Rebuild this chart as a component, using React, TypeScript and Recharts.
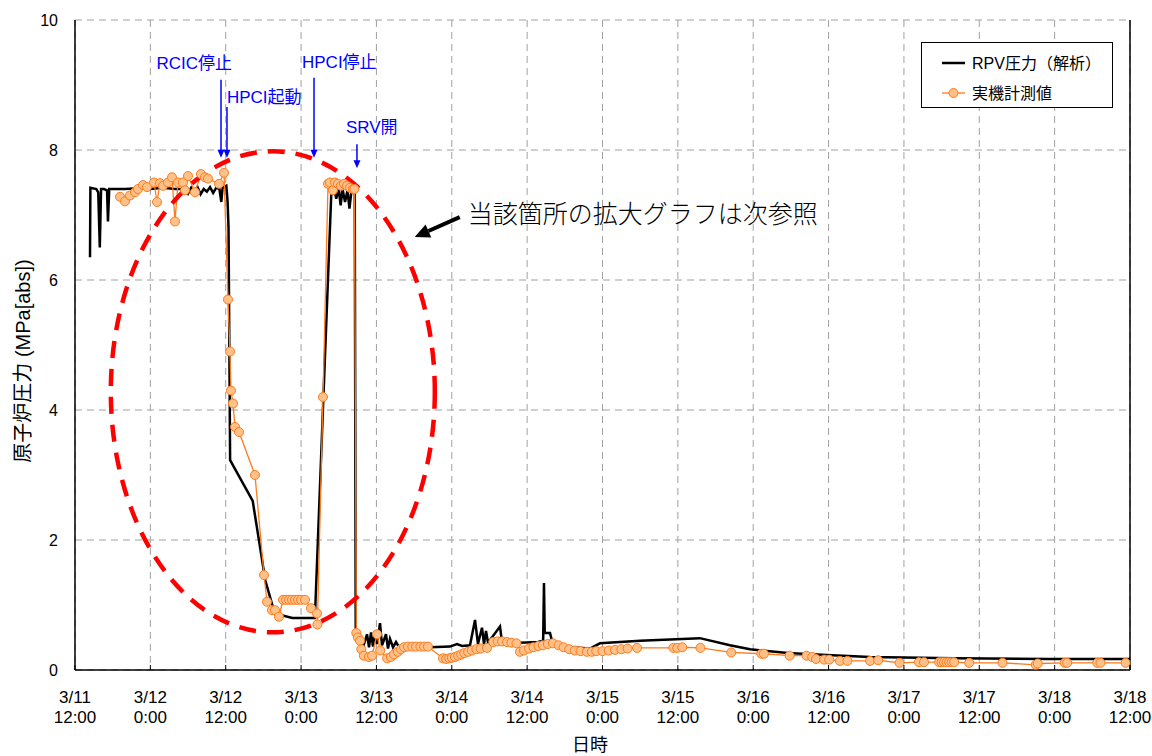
import React from 'react';
import { LineChart, Line, XAxis, YAxis, CartesianGrid, ReferenceDot, ReferenceLine } from 'recharts';

// x = hours since 3/11 12:00
const xTickHours = [0, 12, 24, 36, 48, 60, 72, 84, 96, 108, 120, 132, 144, 156, 168];
const xTickDates = ['3/11', '3/12', '3/12', '3/13', '3/13', '3/14', '3/14', '3/15', '3/15', '3/16', '3/16', '3/17', '3/17', '3/18', '3/18'];
const xTickTimes = ['12:00', '0:00', '12:00', '0:00', '12:00', '0:00', '12:00', '0:00', '12:00', '0:00', '12:00', '0:00', '12:00', '0:00', '12:00'];
const yTicks = [0, 2, 4, 6, 8, 10];

// RPV圧力（解析） [hour, MPa]
const rpvAnalysis: [number, number][] = [
  [2.39, 6.35], [2.45, 7.42], [3.4, 7.4], [3.7, 7.35], [3.95, 6.5], [4.15, 7.4], [4.6, 7.4], [5.1, 7.38],
  [5.25, 6.9], [5.45, 7.4], [8, 7.4], [10, 7.41], [12, 7.4], [14, 7.42], [16, 7.4], [17.5, 7.4],
  [18, 7.33], [18.5, 7.42], [19, 7.35], [19.5, 7.43], [20, 7.32], [20.5, 7.4], [21, 7.36], [21.5, 7.43],
  [22, 7.34], [22.5, 7.42], [23, 7.4], [23.3, 7.2], [23.5, 7.42], [24.1, 7.45], [24.3, 7.2], [24.45, 6.8],
  [24.7, 3.23], [28.3, 2.6], [30.3, 1.38], [31.8, 0.87], [34.6, 0.8], [38.2, 0.8], [40.8, 7.3], [41.2, 7.45],
  [41.6, 7.25], [42.0, 7.4], [42.3, 7.15], [42.6, 7.4], [43.0, 7.2], [43.4, 7.38], [43.7, 7.1], [44.0, 7.35],
  [44.3, 7.4], [44.55, 7.35], [44.7, 0.6], [45.06, 0.58], [45.7, 0.3], [46.5, 0.55], [46.82, 0.35], [47.14, 0.58],
  [47.45, 0.36], [47.77, 0.6], [48.09, 0.4], [48.57, 0.72], [48.89, 0.38], [49.52, 0.55], [49.84, 0.33], [50.16, 0.48],
  [50.64, 0.35], [51.12, 0.43], [51.75, 0.33], [53.35, 0.35], [56.53, 0.35], [59.72, 0.36], [60.83, 0.4], [61.63, 0.37],
  [62.9, 0.38], [63.7, 0.77], [64.17, 0.4], [64.81, 0.65], [65.13, 0.4], [65.45, 0.6], [65.77, 0.42], [67.68, 0.67],
  [68.0, 0.42], [70.86, 0.42], [73.73, 0.43], [74.55, 0.45], [74.68, 1.34], [74.8, 0.57], [75.64, 0.57], [75.96, 0.45],
  [78.82, 0.35], [82.0, 0.33], [83.6, 0.41], [90, 0.45], [99.5, 0.49], [104.3, 0.38], [107.5, 0.32], [113.5, 0.26],
  [119.7, 0.23], [126.6, 0.2], [140, 0.18], [155, 0.17], [168, 0.17],
];

// 実機計測値 [hour, MPa]
const plantMeasured: [number, number][] = [
  [7.17, 7.28], [7.96, 7.21], [8.76, 7.3], [9.55, 7.35], [10.03, 7.4], [10.83, 7.46], [11.47, 7.43], [12.58, 7.5],
  [13.06, 7.2], [13.54, 7.49], [14.01, 7.45], [14.81, 7.5], [15.45, 7.58], [15.92, 6.9], [16.4, 7.5], [17.2, 7.5],
  [17.52, 7.38], [17.99, 7.6], [19.11, 7.35], [20.06, 7.63], [20.7, 7.58], [21.18, 7.56], [22.93, 7.48], [23.73, 7.65],
  [24.36, 5.7], [24.68, 4.9], [24.84, 4.3], [25.16, 4.1], [25.48, 3.74], [26.12, 3.66], [28.66, 3.0], [30.1, 1.46],
  [30.57, 1.05], [31.37, 0.92], [31.85, 0.92], [32.48, 0.82], [33.12, 1.08], [33.6, 1.08], [34.08, 1.08], [34.55, 1.08],
  [35.03, 1.08], [35.51, 1.08], [35.99, 1.08], [36.62, 1.08], [37.58, 0.95], [38.54, 0.87], [38.6, 0.7], [39.49, 4.2],
  [40.29, 7.48], [40.6, 7.5], [41.08, 7.38], [41.4, 7.5], [41.88, 7.48], [42.36, 7.45], [42.84, 7.48], [43.31, 7.45],
  [43.79, 7.42], [44.27, 7.4], [44.5, 7.4], [44.8, 0.57], [45.06, 0.5], [45.4, 0.45], [45.6, 0.32], [46.0, 0.22],
  [46.8, 0.2], [47.3, 0.22], [48.1, 0.55], [48.6, 0.3], [49.7, 0.18], [50.3, 0.2], [50.8, 0.24], [51.4, 0.28],
  [51.9, 0.32], [52.4, 0.35], [53.0, 0.36], [53.7, 0.36], [54.3, 0.36], [55.0, 0.36], [55.6, 0.36], [56.2, 0.36],
  [58.6, 0.18], [59.1, 0.17], [59.6, 0.18], [60.0, 0.19], [60.5, 0.2], [61.0, 0.22], [61.5, 0.24], [62.0, 0.26],
  [62.6, 0.28], [63.2, 0.3], [63.9, 0.32], [64.6, 0.33], [65.6, 0.34], [66.6, 0.43], [67.3, 0.44], [68.0, 0.44],
  [68.8, 0.43], [69.5, 0.42], [70.3, 0.41], [70.86, 0.28], [71.5, 0.3], [72.3, 0.33], [73.0, 0.35], [73.8, 0.37],
  [74.5, 0.38], [75.3, 0.4], [76.1, 0.41], [77.0, 0.38], [77.8, 0.35], [78.7, 0.32], [79.6, 0.3], [80.5, 0.29],
  [81.5, 0.28], [82.3, 0.28], [83.0, 0.29], [84.0, 0.29], [85.0, 0.3], [86.0, 0.31], [87.0, 0.32], [88.0, 0.33],
  [89.5, 0.34], [95.3, 0.34], [95.9, 0.34], [96.7, 0.35], [99.6, 0.34], [104.5, 0.27], [109.3, 0.25], [109.7, 0.25],
  [113.8, 0.22], [116.5, 0.22], [117.4, 0.2], [118.0, 0.17], [119.3, 0.16], [120.1, 0.16], [121.8, 0.14], [123.0, 0.14],
  [126.6, 0.14], [127.9, 0.15], [131.3, 0.11], [134.4, 0.12], [135.2, 0.12], [137.6, 0.12], [138.0, 0.12], [138.4, 0.12],
  [138.8, 0.12], [139.2, 0.12], [139.6, 0.12], [140.0, 0.12], [142.4, 0.11], [147.7, 0.11], [153.0, 0.08], [153.3, 0.1],
  [157.6, 0.11], [158.0, 0.11], [162.8, 0.11], [163.3, 0.11], [167.3, 0.11],
];

const events = [
  { label: 'RCIC停止', hour: 23.25, from: 9.08, to: 7.88 },
  { label: 'HPCI起動', hour: 24.2, from: 8.66, to: 7.88 },
  { label: 'HPCI停止', hour: 38.06, from: 9.11, to: 7.88 },
  { label: 'SRV開', hour: 44.9, from: 8.09, to: 7.72 },
];

// label placement relative to the top of each arrow
const labelPlace: Record<string, { dx: number; dy: number; anchor: 'start' | 'end' }> = {
  'RCIC停止': { dx: 11, dy: -16, anchor: 'end' },
  'HPCI起動': { dx: 0, dy: -10, anchor: 'start' },
  'HPCI停止': { dx: -12, dy: -15, anchor: 'start' },
  'SRV開': { dx: -11, dy: -17, anchor: 'start' },
};

// region circled in red (center hour / MPa, half-widths)
const focusRegion = { hour: 31.5, mpa: 4.28, halfHours: 25.8, halfMpa: 3.7 };
const calloutTip = { hour: 54.1, mpa: 6.66 };

const W = 1152;
const H = 756;
const PLOT_LEFT = 75;
const PLOT_RIGHT = 1130;
const PLOT_TOP = 20;
const PLOT_BOTTOM = 670;
const pxPerHour = (PLOT_RIGHT - PLOT_LEFT) / 168;
const pxPerMpa = (PLOT_BOTTOM - PLOT_TOP) / 10;

const FONT = "'Liberation Sans', Arial, 'Noto Sans CJK JP', sans-serif";

const rpvData = rpvAnalysis.map(([h, p]) => ({ h, p }));
const measuredData = plantMeasured.map(([h, p]) => ({ h, p }));

const DateTick = (props: any) => {
  const { x, y, payload } = props;
  const i = xTickHours.indexOf(payload.value);
  return (
    <g>
      <line x1={x} y1={y - 5} x2={x} y2={y} stroke="#000" strokeWidth={1} />
      <text x={x} y={y + 33} textAnchor="middle" fontSize={17} fill="#000" fontFamily={FONT}>{xTickDates[i]}</text>
      <text x={x} y={y + 53} textAnchor="middle" fontSize={17} fill="#000" fontFamily={FONT}>{xTickTimes[i]}</text>
    </g>
  );
};

const arrowShape = (ev: typeof events[number]) => (props: any) => {
  const { cx, cy } = props;
  const top = cy - (ev.from - ev.to) * pxPerMpa;
  const lp = labelPlace[ev.label];
  return (
    <g>
      <line x1={cx} y1={top} x2={cx} y2={cy - 7} stroke="#0000FF" strokeWidth={1.5} />
      <polygon points={`${cx - 3.5},${cy - 8} ${cx + 3.5},${cy - 8} ${cx},${cy}`} fill="#0000FF" />
      <text x={cx + lp.dx} y={top + lp.dy} textAnchor={lp.anchor} dominantBaseline="central" fontSize={17} fill="#0000FF" fontFamily={FONT}>
        {ev.label}
      </text>
    </g>
  );
};

const ellipseShape = (props: any) => (
  <ellipse
    cx={props.cx}
    cy={props.cy}
    rx={focusRegion.halfHours * pxPerHour}
    ry={focusRegion.halfMpa * pxPerMpa}
    fill="none"
    stroke="#FF0000"
    strokeWidth={4.5}
    strokeDasharray="17 11"
  />
);

const calloutShape = (props: any) => {
  const { cx, cy } = props;
  const tx = cx + 45;
  const ty = cy - 20;
  // arrow head pointing to (cx, cy)
  const ang = Math.atan2(cy - ty, cx - tx);
  const hl = 15;
  const hw = 7;
  const bx = cx - hl * Math.cos(ang);
  const by = cy - hl * Math.sin(ang);
  const nx = -Math.sin(ang);
  const ny = Math.cos(ang);
  return (
    <g>
      <line x1={tx} y1={ty} x2={bx} y2={by} stroke="#000" strokeWidth={4} />
      <polygon points={`${cx},${cy} ${bx + nx * hw},${by + ny * hw} ${bx - nx * hw},${by - ny * hw}`} fill="#000" />
      <text x={cx + 53} y={cy - 25} dominantBaseline="central" fontSize={25} fill="#000" fontFamily="'Noto Sans CJK JP', sans-serif" fontWeight={300}>
        当該箇所の拡大グラフは次参照
      </text>
    </g>
  );
};

const App: React.FC = () => {
  return (
    <div style={{ position: 'absolute', left: 0, top: 0, width: W, height: H, background: '#fff', fontFamily: FONT }}>
      <LineChart width={W} height={H} margin={{ top: PLOT_TOP, right: W - PLOT_RIGHT, left: 0, bottom: 0 }}>
        <CartesianGrid stroke="#A0A0A0" strokeDasharray="7 5" />
        <XAxis
          type="number"
          dataKey="h"
          domain={[0, 168]}
          ticks={xTickHours}
          interval={0}
          height={H - PLOT_BOTTOM}
          tickLine={false}
          tickSize={0}
          tickMargin={0}
          axisLine={{ stroke: '#000', strokeWidth: 1.5 }}
          tick={<DateTick />}
        />
        <YAxis
          type="number"
          domain={[0, 10]}
          ticks={yTicks}
          width={PLOT_LEFT}
          tickLine={false}
          tickSize={0}
          tickMargin={17}
          axisLine={{ stroke: '#000', strokeWidth: 1.5 }}
          tick={{ fill: '#000', fontSize: 16, fontFamily: FONT }}
        />
        <ReferenceLine x={168} stroke="#000" strokeWidth={1.5} />
        <ReferenceDot x={focusRegion.hour} y={focusRegion.mpa} r={1} shape={ellipseShape} ifOverflow="visible" />
        <Line
          data={rpvData}
          dataKey="p"
          type="linear"
          stroke="#000"
          strokeWidth={2.5}
          dot={false}
          isAnimationActive={false}
        />
        <Line
          data={measuredData}
          dataKey="p"
          type="linear"
          stroke="#FF7A1A"
          strokeWidth={1.3}
          dot={{ r: 4.5, fill: '#FFC18A', stroke: '#FF7A1A', strokeWidth: 1 }}
          isAnimationActive={false}
        />
        {events.map((ev) => (
          <ReferenceDot key={ev.label} x={ev.hour} y={ev.to} r={1} shape={arrowShape(ev)} ifOverflow="visible" />
        ))}
        <ReferenceDot x={calloutTip.hour} y={calloutTip.mpa} r={1} shape={calloutShape} ifOverflow="visible" />
      </LineChart>

      <svg width={W} height={H} style={{ position: 'absolute', left: 0, top: 0, pointerEvents: 'none' }}>
        <text x={23} y={361} transform="rotate(-90 23 361)" textAnchor="middle" dominantBaseline="central" fontSize={20} fill="#000" fontFamily={FONT}>
          原子炉圧力 (MPa[abs])
        </text>
        <text x={590} y={745} textAnchor="middle" dominantBaseline="central" fontSize={18} fill="#000" fontFamily={FONT}>
          日時
        </text>
      </svg>

      <div style={{ position: 'absolute', left: 921, top: 42, width: 192, height: 66, border: '1px solid #000', background: '#fff', boxSizing: 'border-box' }}>
        <svg width={190} height={64}>
          <line x1={20} y1={20} x2={43} y2={20} stroke="#000" strokeWidth={2.5} />
          <text x={50} y={20} dominantBaseline="central" fontSize={16} fill="#000" fontFamily={FONT}>RPV圧力（解析）</text>
          <line x1={20} y1={50} x2={43} y2={50} stroke="#FF7A1A" strokeWidth={1.3} />
          <circle cx={31.5} cy={50} r={4.5} fill="#FFC18A" stroke="#FF7A1A" strokeWidth={1} />
          <text x={50} y={50} dominantBaseline="central" fontSize={16} fill="#000" fontFamily={FONT}>実機計測値</text>
        </svg>
      </div>
    </div>
  );
};

export default App;
